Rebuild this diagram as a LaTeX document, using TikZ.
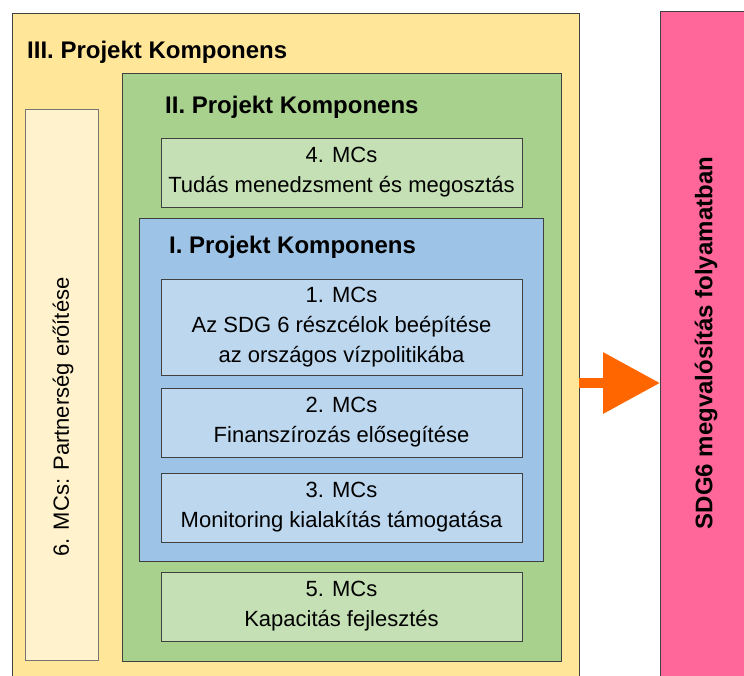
\documentclass[tikz,border=0pt]{standalone}
\usepackage{fontspec}
\setmainfont{Liberation Sans}
\usepackage{tikz}
\usetikzlibrary{positioning, arrows.meta}
\definecolor{yellowCol}{RGB}{255, 230, 153}
\definecolor{creamCol}{RGB}{255, 242, 204}
\definecolor{greenCol}{RGB}{169, 209, 142}
\definecolor{lightGreenCol}{RGB}{197, 224, 180}
\definecolor{blueCol}{RGB}{157, 195, 230}
\definecolor{lightBlueCol}{RGB}{189, 215, 238}
\definecolor{pinkCol}{RGB}{255, 102, 153}
\definecolor{orangeCol}{RGB}{255, 102, 0}
\tikzset{myBox/.style={draw=black!75, line width=0.8pt, inner sep=0pt, outer sep=0pt}}
\tikzset{myTitle/.style={font=\fontsize{24}{30}\selectfont\bfseries, inner sep=0pt, anchor=base west}}
\tikzset{myMcBox/.style={myBox, minimum width=361pt, minimum height=69pt, align=center, font=\fontsize{22}{30}\selectfont}}

\begin{document}
\begin{tikzpicture}[x=1pt, y=-1pt]
	\useasboundingbox (0,0) rectangle (744,675);
	\clip (0,0) rectangle (744,675);

	% outer frame and side strip
	\node[myBox, fill=yellowCol, minimum width=567pt, minimum height=677pt] (komp3) at (295.5,351.5) {};
	\node[myTitle] (komp3Title) at (27,58) {III. Projekt Komponens};
	\node[myBox, draw=black!55, fill=creamCol, minimum width=73pt, minimum height=551pt] (mc6) at (61.5,384.5) {};
	\node[rotate=90, font=\fontsize{22}{30}\selectfont] (mc6Text) at (63,417) {6. MCs: Partnerség erőítése};

	% green component
	\node[myBox, fill=greenCol, minimum width=439pt, minimum height=588pt] (komp2) at (341.5,367) {};
	\node[myTitle] (komp2Title) at (165,113) {II. Projekt Komponens};
	\node[myMcBox, fill=lightGreenCol] (mc4) at (341.5,172.5) {4. MCs\\Tudás menedzsment és megosztás};

	% blue component
	\node[myBox, fill=blueCol, minimum width=404pt, minimum height=343pt] (komp1) at (341,389.5) {};
	\node[myTitle] (komp1Title) at (169,253) {I. Projekt Komponens};
	\node[myMcBox, fill=lightBlueCol, minimum height=96pt] (mc1) at (341.5,327) {1. MCs\\Az SDG 6 részcélok beépítése\\az országos vízpolitikába};
	\node[myMcBox, fill=lightBlueCol] (mc2) at (341.5,422.5) {2. MCs\\Finanszírozás elősegítése};
	\node[myMcBox, fill=lightBlueCol] (mc3) at (341.5,507.5) {3. MCs\\Monitoring kialakítás támogatása};

	\node[myMcBox, fill=lightGreenCol] (mc5) at (341.5,606.5) {5. MCs\\Kapacitás fejlesztés};

	% result
	\node[myBox, fill=pinkCol, minimum width=100pt, minimum height=689pt] (sdg) at (710,355.5) {};
	\node[rotate=90, font=\fontsize{24}{30}\selectfont\bfseries] (sdgText) at (706,343) {SDG6 megvalósítás folyamatban};

	\coordinate (arrStart) at (komp3.east |- 0,383);
	\draw[orangeCol, line width=10pt, -{Triangle[length=57pt, width=59pt]}] (arrStart) -- (sdg.west |- arrStart);
\end{tikzpicture}
\end{document}
